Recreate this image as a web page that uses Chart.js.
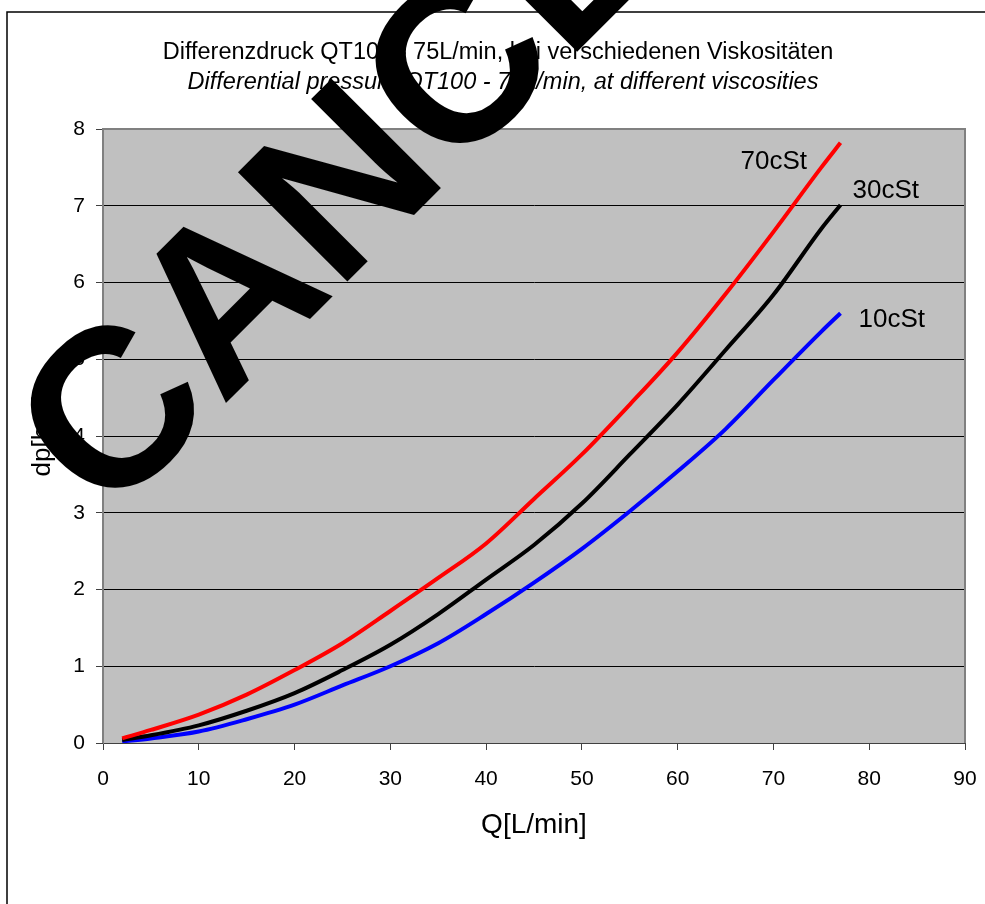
<!DOCTYPE html>
<html>
<head>
<meta charset="utf-8">
<script src="https://cdn.jsdelivr.net/npm/chart.js@4.4.0/dist/chart.umd.min.js"></script>
<style>
    body { margin: 0; background: #ffffff; }
    canvas { display: block; }
</style>
</head>
<body>
<canvas id="myChart" width="985" height="904"></canvas>
<script>
// flow rate Q [L/min] and differential pressure dp [bar] per viscosity
let flowRate = [2, 5, 10, 15, 20, 25, 30, 35, 40, 45, 50, 55, 60, 65, 70, 75, 77];
let dp70 = [0.06, 0.17, 0.37, 0.63, 0.95, 1.30, 1.72, 2.15, 2.60, 3.18, 3.76, 4.41, 5.09, 5.85, 6.66, 7.50, 7.82];
let dp30 = [0.04, 0.10, 0.23, 0.42, 0.65, 0.95, 1.28, 1.68, 2.13, 2.58, 3.12, 3.76, 4.41, 5.12, 5.84, 6.70, 7.01];
let dp10 = [0.02, 0.06, 0.15, 0.31, 0.50, 0.75, 1.00, 1.30, 1.68, 2.09, 2.53, 3.02, 3.54, 4.09, 4.73, 5.36, 5.60];
let seriesNames = ["70cSt", "30cSt", "10cSt"];
let seriesColors = ["#ff0000", "#000000", "#0000ff"];

let titleLines = [
    "Differenzdruck QT100 - 75L/min, bei verschiedenen Viskositäten",
    "Differential pressure QT100 - 75L/min, at different viscosities"
];
let xTitle = "Q[L/min]";
let yTitle = "dp[bar]";
let stampText = "CANCELLED";

// where each end label sits relative to the last point of its line
let labelOffsets = [[-100, 26], [12, -7], [18, 14]];

const FONT = "'Liberation Sans', Arial, sans-serif";

function toPoints(xs, ys) {
    return xs.map(function (x, i) { return { x: x, y: ys[i] }; });
}

let frame = {
    id: "frame",
    beforeDraw(chart) {
        let ctx = chart.ctx;
        let a = chart.chartArea;
        ctx.save();
        ctx.fillStyle = "#ffffff";
        ctx.fillRect(0, 0, chart.width, chart.height);
        ctx.strokeStyle = "#000000";
        ctx.lineWidth = 1.5;
        ctx.strokeRect(7, 12, 1200, 1200);
        ctx.fillStyle = "#c0c0c0";
        ctx.fillRect(a.left, a.top, a.right - a.left, a.bottom - a.top);
        ctx.restore();
    },
    beforeDatasetsDraw(chart) {
        let ctx = chart.ctx;
        let a = chart.chartArea;
        ctx.save();
        ctx.strokeStyle = "#808080";
        ctx.lineWidth = 2;
        ctx.beginPath();
        ctx.moveTo(a.left, a.bottom);
        ctx.lineTo(a.left, a.top);
        ctx.lineTo(a.right, a.top);
        ctx.lineTo(a.right, a.bottom);
        ctx.stroke();
        ctx.restore();
    },
    afterDraw(chart) {
        let ctx = chart.ctx;
        ctx.save();
        ctx.fillStyle = "#000000";
        ctx.textBaseline = "alphabetic";

        // two line title
        ctx.textAlign = "center";
        ctx.font = "23.5px " + FONT;
        ctx.fillText(titleLines[0], 498, 59);
        ctx.font = "italic 23.5px " + FONT;
        ctx.fillText(titleLines[1], 503, 89);

        // labels at the end of every curve
        ctx.textAlign = "left";
        ctx.font = "26px " + FONT;
        let xs = chart.scales.x;
        let ys = chart.scales.y;
        chart.data.datasets.forEach(function (ds, i) {
            let last = ds.data[ds.data.length - 1];
            let px = xs.getPixelForValue(last.x);
            let py = ys.getPixelForValue(last.y);
            ctx.fillText(seriesNames[i], px + labelOffsets[i][0], py + labelOffsets[i][1]);
        });

        // big stamp across the chart
        ctx.translate(107, 522);
        ctx.rotate(-45 * Math.PI / 180);
        ctx.font = "bold 225px " + FONT;
        ctx.fillText(stampText, 0, 0);
        ctx.restore();
    }
};

let ctx = document.getElementById("myChart");
let myChart = new Chart(ctx, {
    type: "line",
    data: {
        datasets: [
            { label: seriesNames[0], data: toPoints(flowRate, dp70) },
            { label: seriesNames[1], data: toPoints(flowRate, dp30) },
            { label: seriesNames[2], data: toPoints(flowRate, dp10) }
        ].map(function (ds, i) {
            ds.borderColor = seriesColors[i];
            ds.backgroundColor = seriesColors[i];
            ds.borderWidth = 4;
            ds.pointRadius = 0;
            ds.cubicInterpolationMode = "monotone";
            ds.fill = false;
            return ds;
        })
    },
    options: {
        responsive: false,
        animation: false,
        layout: { padding: { top: 129, right: 20, left: 0, bottom: 0 } },
        plugins: {
            legend: { display: false },
            title: { display: false },
            tooltip: { enabled: false }
        },
        scales: {
            x: {
                type: "linear",
                min: 0,
                max: 90,
                ticks: { stepSize: 10, color: "#000000", padding: 17, font: { family: FONT, size: 21 } },
                grid: { drawOnChartArea: false, tickLength: 7, tickColor: "#404040" },
                border: { color: "#404040", width: 1 },
                title: { display: true, text: xTitle, color: "#000000", padding: { top: 0, bottom: 62 }, font: { family: FONT, size: 28 } },
                afterFit(scale) {
                    scale.height = 161;
                    scale.paddingLeft = 0;
                    scale.paddingRight = 0;
                }
            },
            y: {
                min: 0,
                max: 8,
                ticks: { stepSize: 1, color: "#000000", padding: 11, font: { family: FONT, size: 21 } },
                grid: { color: "#000000", lineWidth: 1, tickLength: 7, tickColor: "#404040" },
                border: { color: "#808080", width: 1 },
                title: { display: true, text: yTitle, color: "#000000", padding: { top: 27, bottom: 0 }, font: { family: FONT, size: 26 } },
                afterFit(scale) { scale.width = 103; }
            }
        }
    },
    plugins: [frame]
});
</script>
</body>
</html>
